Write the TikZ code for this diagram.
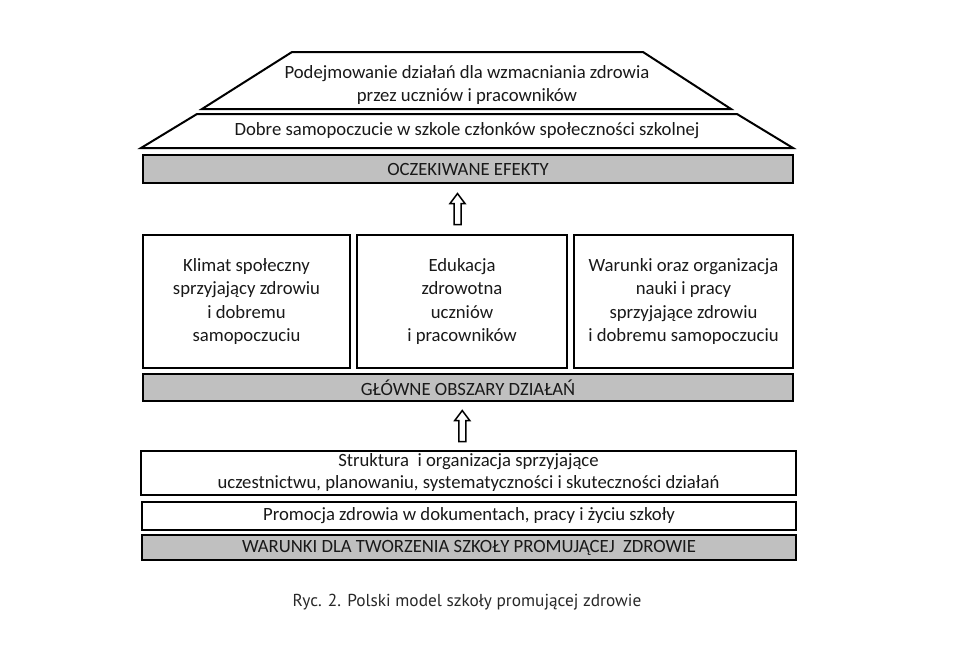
\documentclass[tikz,border=0pt]{standalone}
\usepackage{fontspec}
\setmainfont{Carlito}
\newfontfamily\capfont{PT Sans}
\definecolor{barfill}{RGB}{192,192,192}
\definecolor{txt}{RGB}{25,25,25}
\tikzset{
  outline/.style={draw=black, line width=2pt, fill=white},
  box/.style={outline, inner sep=0pt, align=center, text=txt, font=\fontsize{18.7}{23.3}\selectfont},
  bar/.style={box, fill=barfill},
  lbl/.style={text=txt, align=center, inner sep=0pt, font=\fontsize{18.7}{23.3}\selectfont},
  uparrow/.style={draw=black, line width=1.5pt, fill=white, line join=miter}
}
\begin{document}
\begin{tikzpicture}[x=1pt,y=-1pt]
\useasboundingbox[fill=white] (0,0) rectangle (962,657);
% expected effects: two trapezoids
\draw[outline] (292,52) -- (643,52) -- (731,109) -- (202,109) -- cycle;
\node[lbl] (t1) at (467,85) {Podejmowanie działań dla wzmacniania zdrowia\\przez uczniów i pracowników};
\draw[outline] (197,114) -- (737,114) -- (793,148) -- (141,148) -- cycle;
\node[lbl] (t2) at (467,131) {Dobre samopoczucie w szkole członków społeczności szkolnej};
\node[bar, anchor=north west, minimum width=650pt, minimum height=28pt] (bar1) at (142,154) {OCZEKIWANE EFEKTY};
% main areas
\node[box, anchor=north west, minimum width=207pt, minimum height=133pt] (k1) at (142,234)
  {Klimat społeczny\\sprzyjający zdrowiu\\i dobremu\\samopoczuciu};
\node[box, anchor=north west, minimum width=210pt, minimum height=133pt] (k2) at (356,234)
  {Edukacja\\zdrowotna\\uczniów\\i pracowników};
\node[box, anchor=north west, minimum width=219pt, minimum height=133pt] (k3) at (573,234)
  {Warunki oraz organizacja\\nauki i pracy\\sprzyjające zdrowiu\\i dobremu samopoczuciu};
\node[bar, anchor=north west, minimum width=650pt, minimum height=27pt] (bar2) at (142,373) {GŁÓWNE OBSZARY DZIAŁAŃ};
% conditions
\node[box, anchor=north west, minimum width=655pt, minimum height=44pt,
  font=\fontsize{18.7}{22}\selectfont] (c1) at (140,450)
  {Struktura\ \ i organizacja sprzyjające\\uczestnictwu, planowaniu, systematyczności i skuteczności działań};
\node[box, anchor=north west, minimum width=654pt, minimum height=28pt] (c2) at (141,501)
  {Promocja zdrowia w dokumentach, pracy i życiu szkoły};
\node[bar, anchor=north west, minimum width=654pt, minimum height=25pt] (bar3) at (141,534)
  {WARUNKI DLA TWORZENIA SZKOŁY PROMUJĄCEJ\ \ ZDROWIE};
% arrows (hollow up arrows between the levels)
\path (bar1.south) -- (k2.north) coordinate[midway, xshift=-7.5pt] (a1);
\path (bar2.south) -- (c1.north) coordinate[midway, xshift=-6pt] (a2);
\foreach \c in {a1,a2}{
  \draw[uparrow, shift={(\c)}] (0,-15.5) -- (7.5,-5.5) -- (3.5,-5.5) -- (3.5,15.5)
    -- (-3.5,15.5) -- (-3.5,-5.5) -- (-7.5,-5.5) -- cycle;
}
% caption
\node[text={rgb,255:red,40;green,40;blue,40}, inner sep=0pt, font=\capfont\fontsize{17.3}{20}\selectfont] (cap) at (467,602)
  {Ryc. 2. Polski model szkoły promującej zdrowie};
\end{tikzpicture}
\end{document}
